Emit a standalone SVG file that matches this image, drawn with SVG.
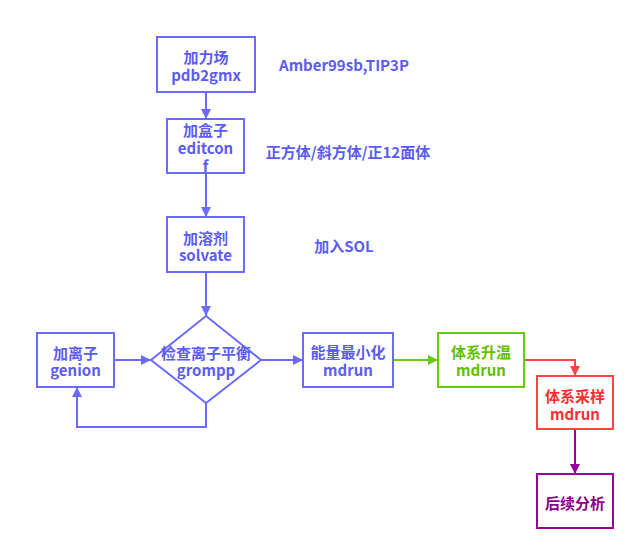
<svg xmlns="http://www.w3.org/2000/svg" width="639" height="554" viewBox="0 0 639 554">
<style>
text{font-family:"Noto Sans CJK SC","Liberation Sans",sans-serif;font-weight:bold;font-size:15px;text-anchor:middle;dominant-baseline:central}
.b{fill:#fff;stroke:#6b6bff;stroke-width:2}
.tb{fill:#5c5cf0}
.g{fill:#fff;stroke:#66cc11;stroke-width:2}
.tg{fill:#5fc000}
.r{fill:#fff;stroke:#ff4444;stroke-width:2}
.tr{fill:#f53030}
.p{fill:#fff;stroke:#990099;stroke-width:2}
.tp{fill:#8a008a}
.cb{fill:none;stroke:#6b6bff;stroke-width:2}
.cg{fill:none;stroke:#66cc11;stroke-width:2}
.cr{fill:none;stroke:#ff4444;stroke-width:2}
.cp{fill:none;stroke:#990099;stroke-width:2}
</style>
<defs>
<marker id="ab" viewBox="0 0 10 10" refX="10" refY="5" markerWidth="10" markerHeight="10" markerUnits="userSpaceOnUse" orient="auto"><path d="M0,0L10,5L0,10z" fill="#6b6bff"/></marker>
<marker id="ag" viewBox="0 0 10 10" refX="10" refY="5" markerWidth="10" markerHeight="10" markerUnits="userSpaceOnUse" orient="auto"><path d="M0,0L10,5L0,10z" fill="#66cc11"/></marker>
<marker id="ar" viewBox="0 0 10 10" refX="10" refY="5" markerWidth="10" markerHeight="10" markerUnits="userSpaceOnUse" orient="auto"><path d="M0,0L10,5L0,10z" fill="#ff4444"/></marker>
<marker id="ap" viewBox="0 0 10 10" refX="10" refY="5" markerWidth="10" markerHeight="10" markerUnits="userSpaceOnUse" orient="auto"><path d="M0,0L10,5L0,10z" fill="#990099"/></marker>
</defs>
<rect width="639" height="554" fill="#fff"/>
<g id="connectors">
<path class="cb" d="M206,92V119" marker-end="url(#ab)"/>
<path class="cb" d="M206,173V217" marker-end="url(#ab)"/>
<path class="cb" d="M206,272V316" marker-end="url(#ab)"/>
<path class="cb" d="M114,360H151" marker-end="url(#ab)"/>
<path class="cb" d="M206,403V427H77V387" marker-end="url(#ab)"/>
<path class="cb" d="M261,360H303" marker-end="url(#ab)"/>
<path class="cg" d="M393,360H438" marker-end="url(#ag)"/>
<path class="cr" d="M524,360H575V376" marker-end="url(#ar)"/>
<path class="cp" d="M575,429V474" marker-end="url(#ap)"/>
</g>
<g id="pdb2gmx"><rect class="b" x="157" y="37" width="98" height="55"/><text class="tb" x="206" y="56">加力场</text><text class="tb" x="206" y="74">pdb2gmx</text></g>
<g id="editconf"><rect class="b" x="167" y="119" width="77" height="54"/><text class="tb" x="205.5" y="129">加盒子</text><text class="tb" x="205.5" y="147">editcon</text><text class="tb" x="205.5" y="165">f</text></g>
<g id="solvate"><rect class="b" x="167" y="217" width="77" height="55"/><text class="tb" x="205.5" y="237">加溶剂</text><text class="tb" x="205.5" y="254">solvate</text></g>
<g id="grompp"><path class="b" d="M206,316L261,360L206,403L151,360z"/><text class="tb" x="206" y="352">检查离子平衡</text><text class="tb" x="206" y="369">grompp</text></g>
<g id="genion"><rect class="b" x="37" y="333" width="77" height="54"/><text class="tb" x="75.5" y="352">加离子</text><text class="tb" x="75.5" y="369">genion</text></g>
<g id="em"><rect class="b" x="303" y="333" width="90" height="54"/><text class="tb" x="348" y="351">能量最小化</text><text class="tb" x="348" y="369">mdrun</text></g>
<g id="heat"><rect class="g" x="438" y="333" width="86" height="54"/><text class="tg" x="481" y="351">体系升温</text><text class="tg" x="481" y="369">mdrun</text></g>
<g id="sample"><rect class="r" x="537" y="376" width="76" height="53"/><text class="tr" x="575" y="395">体系采样</text><text class="tr" x="575" y="413">mdrun</text></g>
<g id="analysis"><rect class="p" x="537" y="474" width="76" height="54"/><text class="tp" x="575" y="502">后续分析</text></g>
<g id="notes">
<text class="tb" x="344" y="64">Amber99sb,TIP3P</text>
<text class="tb" x="348" y="151">正方体/斜方体/正12面体</text>
<text class="tb" x="344" y="245">加入SOL</text>
</g>
</svg>
